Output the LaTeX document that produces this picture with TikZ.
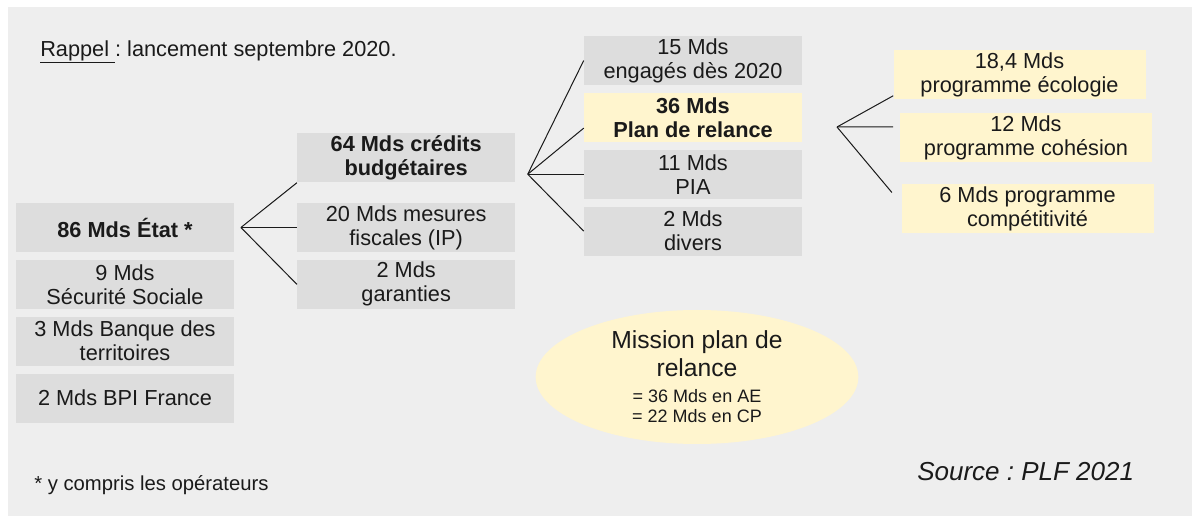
\documentclass[tikz,border=0pt]{standalone}
\usepackage{fontspec}
\setmainfont{Liberation Sans}
\usetikzlibrary{positioning,shapes.geometric}
\definecolor{pagegray}{HTML}{EEEEEE}
\definecolor{boxgray}{HTML}{DDDDDD}
\definecolor{paleyellow}{HTML}{FFF5CE}
\definecolor{ink}{HTML}{1A1A1A}
\frenchspacing

\begin{document}
\begin{tikzpicture}[
  x=0.75pt, y=-0.75pt,
  node distance=5.5pt,
  box/.style={rectangle, fill=boxgray, text=ink, minimum width=163.5pt, minimum height=36.75pt, inner sep=1pt, align=center, font=\fontsize{16.3}{18}\selectfont},
  hibox/.style={box, fill=paleyellow},
  progbox/.style={hibox, minimum width=189pt},
  note/.style={anchor=west, inner sep=0pt, text=ink},
  link/.style={draw=ink, line width=0.75pt}
]
\useasboundingbox (0,0) rectangle (1197,516);
\fill[pagegray] (8,7) rectangle (1192,516);

\node[note, font=\fontsize{16.3}{18}\selectfont] (rappel) at (40,52) {\underline{Rappel\ }: lancement septembre 2020.};

% financeurs
\node[box, font=\fontsize{16.3}{18}\selectfont\bfseries] (etat) at (125,227.5) {86 Mds État *};
\node[box, below=of etat] (secu) {9 Mds\\Sécurité Sociale};
\node[box, below=of secu] (banque) {3 Mds Banque des\\territoires};
\node[box, below=of banque] (bpi) {2 Mds BPI France};

% part de l'Etat
\node[box, right=47pt of etat] (mesures) {20 Mds mesures\\fiscales (IP)};
\node[box, above=15pt of mesures, font=\fontsize{16.3}{18}\selectfont\bfseries] (credits) {64 Mds crédits\\budgétaires};
\node[box, below=of mesures] (garanties) {2 Mds\\garanties};

% credits budgetaires
\node[box] (engages) at (693,60.5) {15 Mds\\engagés dès 2020};
\node[hibox, below=of engages, font=\fontsize{16.3}{18}\selectfont\bfseries] (relance) {36 Mds\\Plan de relance};
\node[box, below=of relance] (pia) {11 Mds\\PIA};
\node[box, below=of pia] (divers) {2 Mds\\divers};

% programmes de la mission
\node[progbox] (ecologie) at (1019.5,75) {18,4 Mds\\programme écologie};
\node[progbox] (cohesion) at (1026,137.5) {12 Mds\\programme cohésion};
\node[progbox] (competitivite) at (1027.5,208.5) {6 Mds programme\\compétitivité};

\node[ellipse, fill=paleyellow, text=ink, minimum width=242pt, minimum height=100.5pt, inner sep=0pt, align=center, font=\fontsize{18.5}{21}\selectfont] (mission) at (697,377)
  {Mission plan de\\relance\\[-1.5pt]{\fontsize{13.5}{15}\selectfont = 36 Mds en AE}\\[-6pt]{\fontsize{13.5}{15}\selectfont = 22 Mds en CP}};

\node[note, font=\fontsize{15.2}{17}\selectfont] (operateurs) at (34,485) {* y compris les opérateurs};
\node[note, font=\fontsize{19.5}{22}\selectfont\itshape] (source) at (917,472) {Source : PLF 2021};

% accolades
\coordinate[right=5pt of etat] (f1);
\draw[link] (f1) -- (credits.south west);
\draw[link] (f1) -- (mesures.west);
\draw[link] (f1) -- (garanties.west);

\coordinate[left=42pt of pia.west] (f2);
\draw[link] (f2) -- (engages.west);
\draw[link] (f2) -- ([yshift=10.5pt]relance.south west);
\draw[link] (f2) -- (pia.west);
\draw[link] (f2) -- (divers.west);

\coordinate (f3) at (837,127);
\draw[link] (f3) -- ([yshift=3pt]ecologie.south west);
\draw[link] (f3) -- ([shift={(-5pt,8pt)}]cohesion.west);
\draw[link] (f3) -- ([shift={(-7pt,12pt)}]competitivite.west);
\end{tikzpicture}
\end{document}
